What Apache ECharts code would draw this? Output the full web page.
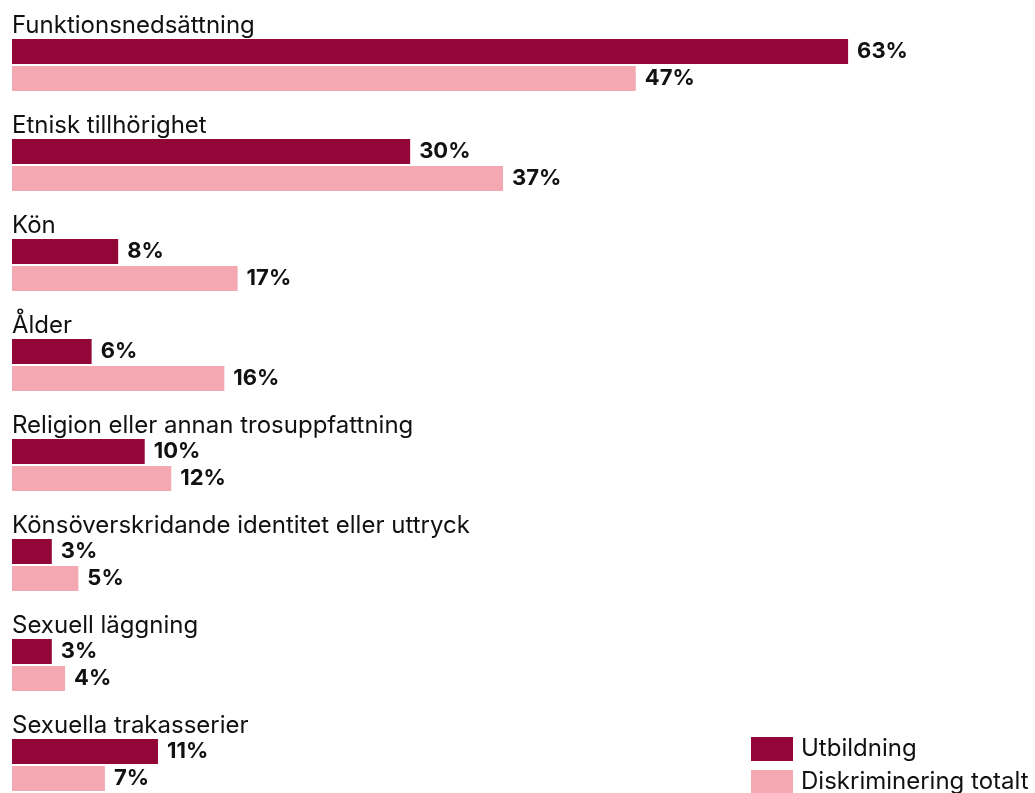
<!DOCTYPE html>
<html><head><meta charset="utf-8">
<script src="https://cdn.jsdelivr.net/npm/echarts@6/dist/echarts.min.js"></script>
<style>html,body{margin:0;padding:0;background:#fff}#c{width:1035px;height:793px}</style>
</head><body><div id="c"></div>
<script>
var categories = ["Funktionsnedsättning","Etnisk tillhörighet","Kön","Ålder","Religion eller annan trosuppfattning","Könsöverskridande identitet eller uttryck","Sexuell läggning","Sexuella trakasserier"];
var seriesNames = ["Utbildning","Diskriminering totalt"];
var utbildning = [63,30,8,6,10,3,3,11];
var totalt = [47,37,17,16,12,5,4,7];
var colors = ["#930638","#f4a8b1"];
var font = "Inter";
var chart = echarts.init(document.getElementById('c'), null, {renderer:'canvas'});
function barSeries(name, data, color){
  return {
    name: name, type: 'bar', data: data, barWidth: 25, barGap: '8%',
    itemStyle: {color: color},
    label: {show: true, position: 'right', distance: 9, formatter: '{c}%',
      color: '#111', fontFamily: font, fontWeight: 'bold', fontSize: 22},
    emphasis: {disabled: true}
  };
}
chart.setOption({
  animation: false,
  grid: {left: 12, top: 15, height: 800, width: 929, outerBoundsMode: 'none', containLabel: false},
  xAxis: {type: 'value', min: 0, max: 70, show: false},
  yAxis: {type: 'category', inverse: true, data: categories,
    axisLine: {show: false}, axisTick: {show: false}, splitLine: {show: false},
    axisLabel: {inside: true, margin: 0, align: 'left', verticalAlign: 'bottom',
      padding: [0,0,27,0], color: '#111', fontFamily: font, fontSize: 24}},
  legend: {orient: 'vertical', left: 751, top: 737, height: 100, padding: 0, itemWidth: 42, itemHeight: 24, itemGap: 9,
    icon: 'rect', data: seriesNames,
    textStyle: {fontFamily: font, fontSize: 24, lineHeight: 24, color: '#111', padding: [0,0,0,3]}},
  series: [barSeries(seriesNames[0], utbildning, colors[0]), barSeries(seriesNames[1], totalt, colors[1])]
});
</script></body></html>
